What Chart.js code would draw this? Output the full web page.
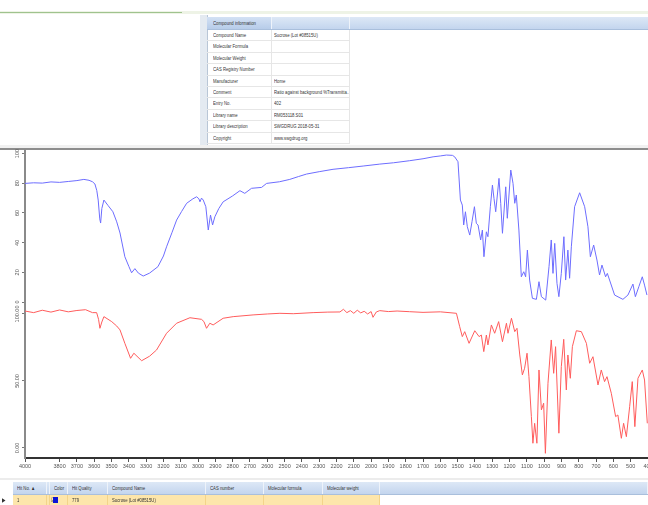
<!DOCTYPE html>
<html>
<head>
<meta charset="utf-8">
<script src="https://cdn.jsdelivr.net/npm/chart.js"></script>
<style>
  body { margin:0; width:648px; height:505px; overflow:hidden; background:#fff; position:relative;
         font-family:"Liberation Sans",Arial,sans-serif; color:#333; }
  .abs { position:absolute; }
  .cell { position:absolute; font-size:5.5px; line-height:11px; white-space:nowrap; overflow:hidden;
          transform:scaleX(0.77); transform-origin:0 50%; }
  .hdr { background:linear-gradient(#dde8f6,#c3d5ee); border-bottom:1px solid #a9bfdc; }
</style>
</head>
<body>
<!-- top strip -->
<div class="abs" style="left:0;top:11px;width:648px;height:3px;background:#eef3e6"></div>
<div class="abs" style="left:0;top:12px;width:182px;height:1px;background:#9fc38e"></div>

<!-- compound info panel -->
<div class="abs" style="left:200px;top:15px;width:7px;height:130px;background:#e4eaf1;border-right:1px solid #b9c6d6"></div>
<div id="info"></div>

<!-- splitter + chart -->
<div class="abs" style="left:0;top:145px;width:648px;height:3px;background:#f1f1f1"></div>
<div class="abs" style="left:0;top:148px;width:648px;height:2px;background:#8d8d8d"></div>
<canvas id="myChart" class="abs" style="left:0;top:140px" width="648" height="340"></canvas>

<!-- hit list -->
<div class="abs" style="left:0;top:478px;width:648px;height:2px;background:#ececec"></div>
<div id="hits"></div>

<script>
// 化合物情報
var infoLabels = ['Compound Name','Molecular Formula','Molecular Weight','CAS Registry Number','Manufacturer',
                  'Comment','Entry No.','Library name','Library description','Copyright'];
var infoValues = ['Sucrose (Lot #08515U)','','','','Home',
                  'Ratio against background %Transmitta...','402','RM053118.S01','SWGDRUG 2018-05-31','www.swgdrug.org'];

// ヒットリスト
var hitHeaders = ['Hit No.  \u25b2','','Color','Hit Quality','Compound Name','CAS number','Molecular formula','Molecular weight',''];
var hitEdges   = [13, 47, 50, 68, 108, 206, 264, 323, 380, 648];
var hitRow     = ['1','\u2611','','779','Sucrose (Lot #08515U)','','','',''];

// スペクトル (上段: 青)
var blueWn = [4000,3950,3900,3850,3800,3750,3700,3660,3630,3610,3596,3585,3577,3568,3563,3556,3544,3520,3492,3470,
  3451,3423,3400,3384,3365,3345,3317,3280,3232,3200,3182,3150,3124,3095,3066,3030,3008,2995,2989,2980,
  2970,2955,2941,2928,2916,2903,2880,2855,2800,2758,2730,2691,2633,2604,2530,2470,2420,2373,2300,2220,
  2130,2046,1950,1870,1777,1700,1642,1600,1565,1530,1517,1498,1484,1473,1465,1455,1444,1430,1417,1403,
  1392,1382,1367,1357,1348,1334,1325,1311,1299,1290,1280,1261,1251,1241,1222,1213,1193,1180,1170,1161,
  1146,1132,1118,1107,1097,1084,1068,1045,1030,1016,991,972,959,949,939,926,915,901,886,876,
  863,853,843,824,795,766,747,733,714,695,680,666,645,635,593,545,516,487,473,453,
  433,420,406];
var blueT = [79.9,80.3,80.1,80.9,80.6,81.2,81.8,82.6,82.0,81.0,79.5,75.0,68.7,56.0,53.2,63.0,68.7,65.0,60.8,54.0,
  46.5,30.5,24.0,19.7,22.5,19.5,17.5,19.5,23.8,31.0,37.2,47.0,55.2,61.0,66.5,69.5,70.9,69.5,67.5,70.0,
  68.7,64.2,48.5,58.6,51.9,57.4,63.0,67.5,71.5,75.0,73.2,76.6,77.2,79.9,81.0,82.6,84.5,86.2,87.8,89.4,
  90.5,91.6,92.9,93.8,95.2,96.5,97.8,98.4,99.0,98.8,97.8,94.5,68.7,65.3,51.9,60.8,50.7,45.1,54.1,64.2,
  53.0,51.9,41.8,48.5,30.5,47.3,44.0,64.2,78.8,69.8,60.8,83.3,66.5,46.3,77.6,56.4,88.9,79.9,66.5,72.1,
  48.5,17.0,20.4,17.0,35.0,14.8,2.5,1.8,13.7,3.6,1.3,23.8,41.8,19.3,39.5,12.6,3.6,19.3,44.0,14.8,
  35.0,16.0,37.2,64.2,73.6,64.2,50.7,30.5,38.4,28.3,18.2,24.9,17.0,19.3,4.7,1.8,4.7,12.1,3.6,10.3,
  17.0,11.4,4.7];

// スペクトル (下段: 赤)
var redWn = [4000,3950,3900,3850,3800,3750,3700,3650,3610,3586,3575,3567,3556,3544,3499,3470,3451,3423,3390,3371,
  3326,3280,3240,3182,3124,3047,2980,2966,2951,2932,2913,2855,2797,2682,2600,2527,2450,2335,2250,2180,
  2160,2140,2120,2100,2080,2060,2040,2020,2000,1989,1970,1950,1900,1850,1777,1700,1600,1507,1488,1473,
  1459,1434,1401,1376,1363,1349,1334,1325,1305,1286,1263,1241,1218,1209,1189,1170,1157,1141,1126,1113,
  1099,1088,1074,1065,1055,1042,1030,1016,1003,993,978,959,945,934,915,901,887,872,863,849,
  837,814,785,756,737,718,689,670,651,637,612,587,574,554,541,525,506,491,476,458,
  433,420,404];
var redT = [102.2,101.0,102.8,101.4,103.0,101.6,102.6,103.2,101.0,101.0,96.0,89.3,94.0,98.0,94.3,91.0,88.1,78.1,66.9,70.7,
  65.1,68.5,73.1,85.6,93.1,97.2,96.0,94.3,89.3,93.1,91.8,96.8,98.0,99.3,100.0,100.5,100.2,101.0,101.4,101.5,
  103.5,101.0,102.5,100.5,102.8,100.8,102.0,100.0,101.8,97.5,101.5,102.5,101.8,102.2,101.7,101.2,101.6,100.5,90.5,83.1,
  86.8,78.1,87.5,83.1,84.3,71.9,84.3,76.9,91.8,85.6,94.3,79.3,93.1,85.6,96.8,86.8,89.3,69.4,54.5,59.5,
  70.7,53.2,23.4,3.5,18.4,3.5,58.2,28.4,33.4,-4.0,48.3,80.6,55.7,75.6,11.0,60.7,81.1,43.3,69.4,52.0,
  75.6,87.5,86.8,78.1,63.2,68.1,47.0,58.2,49.5,53.2,40.8,23.4,24.6,7.2,18.4,8.4,30.8,49.5,15.9,52.0,
  58.2,50.7,18.4];

// 軸の目盛り
var xTicks = [4000,3800,3700,3600,3500,3400,3300,3200,3100,3000,2900,2800,2700,2600,2500,2400,2300,2200,
  2100,2000,1900,1800,1700,1600,1500,1400,1300,1200,1100,1000,900,800,700,600,500,400];
var blueTicks = [0,20,40,60,80,100];
var blueTickLabels = ['0','20','40','60','80','100'];
var redTicks = [0,50,100];
var redTickLabels = ['0.00','50.00','100.00'];

function buildInfo(){
  var box = document.getElementById('info');
  var html = '';
  html += '<div class="abs hdr" style="left:207px;top:17px;width:441px;height:12px"></div>';
  html += '<div class="abs" style="left:207px;top:17px;width:64px;height:12px;background:linear-gradient(#d3e1f4,#b7cce9)"></div>';
  html += '<div class="cell" style="left:213px;top:17px;width:80px;height:12px;line-height:12px">Compound information</div>';
  html += '<div class="abs" style="left:271px;top:17px;width:1px;height:12px;background:#eef3fa"></div>';
  html += '<div class="abs" style="left:349px;top:17px;width:1px;height:12px;background:#eef3fa"></div>';
  for (var i = 0; i < infoLabels.length; i++) {
    var top = 30 + i * 11.4;
    html += '<div class="abs" style="left:207px;top:' + top + 'px;width:143px;height:10.4px;border-bottom:1px solid #e6e6e6"></div>';
    html += '<div class="cell" style="left:213px;top:' + top + 'px;width:74px">' + infoLabels[i] + '</div>';
    html += '<div class="abs" style="left:271px;top:' + top + 'px;width:1px;height:11.4px;background:#e6e6e6"></div>';
    html += '<div class="cell" style="left:274px;top:' + top + 'px;width:97px">' + infoValues[i] + '</div>';
  }
  html += '<div class="abs" style="left:349px;top:30px;width:1px;height:114px;background:#e6e6e6"></div>';
  box.innerHTML = html;
}

function buildHits(){
  var box = document.getElementById('hits');
  var html = '';
  html += '<div class="abs hdr" style="left:13px;top:482px;width:635px;height:12px"></div>';
  for (var i = 0; i < hitHeaders.length; i++) {
    var l = hitEdges[i], w = hitEdges[i + 1] - l;
    html += '<div class="cell" style="left:' + (l + 4) + 'px;top:482px;width:' + Math.round((w - 5) / 0.77) + 'px;height:12px;line-height:12px">' + hitHeaders[i] + '</div>';
    html += '<div class="abs" style="left:' + (hitEdges[i + 1] - 1) + 'px;top:482px;width:1px;height:12px;background:#eef3fa"></div>';
  }
  html += '<div class="abs" style="left:13px;top:495px;width:367px;height:10px;background:#fde6ab"></div>';
  html += '<div class="cell" style="left:2px;top:495px;font-size:6px;line-height:10px">\u25b6</div>';
  for (var j = 0; j < hitRow.length - 1; j++) {
    var lx = hitEdges[j];
    html += '<div class="cell" style="left:' + (lx + 4) + 'px;top:495px;line-height:10px">' + hitRow[j] + '</div>';
    html += '<div class="abs" style="left:' + (hitEdges[j + 1] - 1) + 'px;top:495px;width:1px;height:10px;background:#f3d48a"></div>';
  }
  html += '<div class="abs" style="left:53px;top:497px;width:5px;height:6px;background:#0a14d8"></div>';
  box.innerHTML = html;
}

function toPoints(xs, ys){
  var pts = [];
  for (var i = 0; i < xs.length; i++) pts.push({x: xs[i], y: ys[i]});
  return pts;
}

// 縦軸ラベル (回転文字)
var rotLabels = {
  id: 'rotLabels',
  afterDraw: function(chart){
    var c = chart.ctx;
    var sets = [['yBlue', blueTicks, blueTickLabels], ['yRed', redTicks, redTickLabels]];
    c.save();
    c.fillStyle = '#555';
    c.font = '5.5px "Liberation Sans", Arial, sans-serif';
    c.textAlign = 'center';
    c.textBaseline = 'middle';
    for (var s = 0; s < sets.length; s++) {
      var sc = chart.scales[sets[s][0]];
      for (var i = 0; i < sets[s][1].length; i++) {
        var py = sc.getPixelForValue(sets[s][1][i]);
        c.save();
        c.translate(17, py);
        c.rotate(-Math.PI / 2);
        c.fillText(sets[s][2][i], 0, 0);
        c.restore();
      }
    }
    c.restore();
  }
};

function drawChart(){
  var ctx = document.getElementById('myChart').getContext('2d');
  var yCommon = function(ticks){
    return {
      type: 'linear', position: 'left', stack: 'spec',
      afterBuildTicks: function(s){ s.ticks = ticks.map(function(v){ return {value: v}; }); },
      afterFit: function(s){ s.width = 25; },
      ticks: {display: false},
      grid: {drawOnChartArea: false, tickLength: 3, color: '#777'},
      border: {color: '#8a8a8a', width: 2}
    };
  };
  var yRed = yCommon(redTicks);
  yRed.min = -7.5; yRed.max = 106.7; yRed.stackWeight = 153;
  var yBlue = yCommon(blueTicks);
  yBlue.min = -2; yBlue.max = 102.4; yBlue.stackWeight = 155;

  var chart = new Chart(ctx, {
    type: 'line',
    data: {
      datasets: [
        {label: 'Sucrose (Lot #08515U)', data: toPoints(blueWn, blueT), yAxisID: 'yBlue',
         borderColor: '#6d6dff', borderWidth: 1, pointRadius: 0, tension: 0, fill: false},
        {label: 'Sample', data: toPoints(redWn, redT), yAxisID: 'yRed',
         borderColor: '#ff5c5c', borderWidth: 1, pointRadius: 0, tension: 0, fill: false}
      ]
    },
    options: {
      responsive: false,
      animation: false,
      layout: {padding: {top: 10, right: 0, bottom: 10, left: 0}},
      plugins: {legend: {display: false}, tooltip: {enabled: false}},
      scales: {
        x: {
          type: 'linear', reverse: true, min: 400, max: 4000,
          afterBuildTicks: function(s){ s.ticks = xTicks.map(function(v){ return {value: v}; }); },
          afterFit: function(s){ s.height = 12; s.paddingLeft = 0; s.paddingRight = 0; },
          ticks: {autoSkip: false, maxRotation: 0, minRotation: 0, padding: 1, color: '#555',
                  font: {size: 5.5, family: '"Liberation Sans", Arial, sans-serif'},
                  callback: function(v){ return String(v); }},
          grid: {drawOnChartArea: false, tickLength: 4, color: '#555'},
          border: {color: '#333', width: 2}
        },
        yRed: yRed,
        yBlue: yBlue
      }
    },
    plugins: [rotLabels]
  });
}

buildInfo();
buildHits();
drawChart();
</script>
</body>
</html>
